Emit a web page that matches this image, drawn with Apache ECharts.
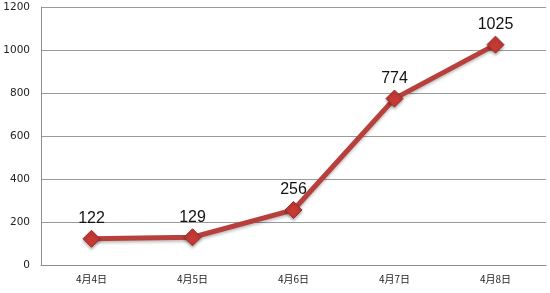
<!DOCTYPE html>
<html><head><meta charset="utf-8">
<script src="https://cdn.jsdelivr.net/npm/echarts@6/dist/echarts.min.js"></script>
<style>html,body{margin:0;padding:0;background:#fff}#c{width:550px;height:293px}</style>
</head><body><div id="c"></div>
<script>
var categories = ['4月4日','4月5日','4月6日','4月7日','4月8日'];
var values = [122, 129, 256, 774, 1025];
var yTicks = {min: 0, max: 1200, interval: 200};

var chart = echarts.init(document.getElementById('c'), null, {renderer: 'canvas'});
chart.setOption({
  animation: false,
  backgroundColor: '#fff',
  grid: {left: 41, right: 4, top: 7, bottom: 28},
  xAxis: {
    type: 'category', data: categories, boundaryGap: true,
    axisLine: {lineStyle: {color: '#8c8c8c', width: 1}},
    axisTick: {show: false},
    axisLabel: {color: '#222', fontSize: 10, fontFamily: 'Noto Sans CJK SC', margin: 9}
  },
  yAxis: {
    type: 'value', min: yTicks.min, max: yTicks.max, interval: yTicks.interval,
    axisLine: {show: true, lineStyle: {color: '#8c8c8c', width: 1}},
    axisTick: {show: false},
    splitLine: {lineStyle: {color: '#9a9a9a', width: 1}},
    axisLabel: {color: '#222', fontSize: 10.5, fontFamily: 'DejaVu Sans', margin: 11,
      formatter: function (v) { return String(v); }}
  },
  series: [{
    type: 'line', data: values,
    symbol: 'diamond', symbolSize: 17,
    lineStyle: {color: '#b8403c', width: 5, shadowColor: 'rgba(0,0,0,0.25)', shadowBlur: 3, shadowOffsetY: 2},
    itemStyle: {color: '#c53a35', borderColor: '#9e2a26', borderWidth: 1, shadowColor: 'rgba(0,0,0,0.3)', shadowBlur: 3, shadowOffsetY: 2},
    label: {show: true, position: 'top', distance: 3, color: '#111', fontSize: 16, fontFamily: 'Liberation Sans'}
  }]
});
</script></body></html>
